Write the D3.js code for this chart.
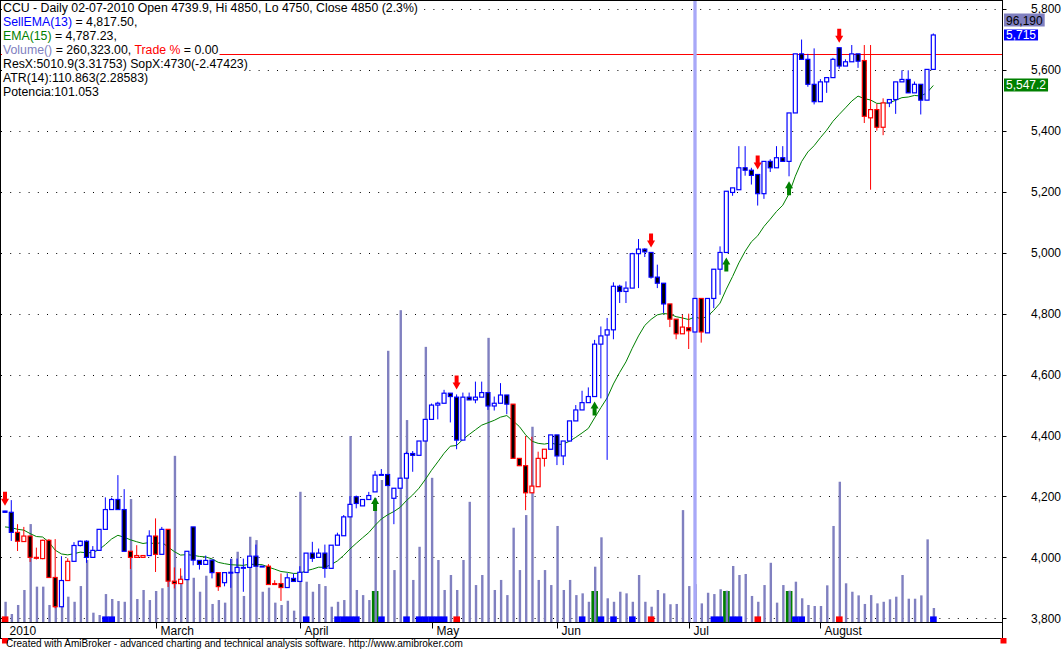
<!DOCTYPE html>
<html><head><meta charset="utf-8">
<script src="https://cdn.jsdelivr.net/npm/d3@7/dist/d3.min.js"></script>
<style>
body{margin:0;background:#fff;}
svg{display:block;font-family:"Liberation Sans",Arial,sans-serif;}
</style></head><body>
<svg id="c" width="1063" height="650"></svg>
<script>
// ---------------- data ----------------
const opens = [4152,4148,4082,4052,4070,3997,3996,4056,3934,3838,
 3924,3987,4039,4053,4000,4023,4092,4157,4190,4157,
 4020,4000,4000,4006,4070,4010,4092,3922,3914,3927,
 4100,3990,3977,3991,3950,3917,3950,3950,3967,3967,
 4004,3971,3971,3911,3914,3901,3931,3921,3951,4014,
 4000,4014,3964,4040,4071,4133,4199,4169,4190,4215,
 4270,4272,4194,4227,4260,4341,4335,4382,4453,4500,
 4506,4539,4526,4385,4526,4517,4526,4541,4497,4506,
 4533,4503,4325,4301,4212,4232,4325,4355,4402,4333,
 4382,4448,4484,4508,4528,4700,4730,4747,4890,4873,
 4884,4997,5012,5001,4920,4900,4832,4782,4734,4754,
 4739.9,4850,4737,4850,4946,5001,5198,5207,5279,5271,
 5257,5194,5300,5279,5312,5300,5459,5653,5635,5553,
 5496,5561,5575,5673,5613,5627,5653,5631,5443,5470,
 5412,5492,5503,5561,5569,5525,5553,5501,5602];
const highs = [4153,4188,4109,4100,4070,4032,4058,4060,4060,4004,
 3997,4050,4055,4056,4037,4092,4197,4196,4270,4224,
 4020,4040,4006,4089,4128,4100,4092,3967,3964,4020,
 4100,3991,4006,3991,3950,3950,3995,3996,3996,4004,
 4042,3972,3978,3925,3947,3948,3947,3971,4014,4051,
 4029,4042,4040,4081,4139,4201,4203,4190,4215,4284,
 4290,4272,4227,4260,4347,4349,4382,4453,4505,4511,
 4550,4539,4535,4541,4541,4577,4577,4541,4528,4572,
 4533,4503,4325,4398,4396,4347,4355,4402,4402,4382,
 4448,4500,4547,4558,4714,4758,4786,4903,4895,4906,
 5000,5045,5015,5001,4961,4900,4832,4782,4796,4800,
 4850,4850,4850,4946,5021,5202,5213,5350,5350,5279,
 5257,5300,5307,5350,5350,5459,5653,5700,5653,5671,
 5570,5575,5640,5673,5635,5682,5653,5682,5682,5489,
 5507,5503,5561,5599,5599,5562,5553,5602,5720];
const lows = [4147,4054,4021,4052,3985,3993,3994,3934,3833,3838,
 3924,3987,4036,3982,3999,4023,4092,4157,4157,4020,
 3962,4000,4000,4006,3952,4010,3903,3898,3914,3927,
 3974,3960,3977,3931,3890,3905,3900,3950,3887,3967,
 3971,3970,3911,3911,3857,3901,3921,3921,3951,3985,
 4000,3933,3964,4040,4071,4133,4161,4169,4190,4215,
 4270,4236,4109,4227,4260,4281,4335,4382,4453,4453,
 4506,4443,4355,4385,4517,4506,4526,4484,4482,4506,
 4470,4325,4301,4155,4212,4232,4298,4355,4303,4303,
 4382,4448,4484,4508,4528,4522,4320,4716,4835,4835,
 4884,4884,4986,4915,4884,4802,4756,4716,4734,4684,
 4739.9,4705,4737,4818,4862,5001,5187,5207,5253,5224,
 5155,5177,5265,5279,5300,5251,5459,5635,5545,5487,
 5496,5525,5575,5604,5613,5627,5607,5426,5207,5401,
 5386,5478,5456,5561,5525,5525,5454,5501,5602];
const closes = [4148,4082,4053,4070,4000,4000,4056,3934,3838,3924,
 3987,4039,4053,4000,4023,4092,4157,4190,4157,4020,
 4000,4006,4006,4070,4010,4092,3922,3914,3928,4020,
 3991,3977,3990,3950,3904,3950,3951,3967,3967,4004,
 3971,3971,3911,3914,3901,3933,3921,3951,4014,3997,
 4014,3964,4040,4073,4133,4174,4177,4190,4203,4270,
 4272,4236,4227,4260,4341,4335,4382,4453,4500,4506,
 4539,4528,4385,4526,4517,4526,4541,4497,4506,4533,
 4503,4325,4301,4212,4234,4325,4355,4402,4333,4382,
 4448,4484,4508,4528,4700,4727,4747,4890,4873,4884,
 4997,5012,5003,4920,4900,4832,4782,4734,4756,4744,
 4850,4740,4850,4946,5001,5202,5213,5279,5271,5254,
 5194,5300,5279,5312,5300,5459,5653,5635,5553,5496,
 5561,5575,5635,5613,5627,5653,5629,5448,5470,5412,
 5492,5503,5561,5569,5525,5553,5501,5602,5715];
// candle regime: b = blue, r = red
const regime = ("bbrrrrrrrb"+"rbbbbbbbbb"+"rrrbrbrrrb"+"bbbbrbbbbb"+"bbrrrbbbbb"+
 "bbbbbbbbbb"+"bbbbbbbbbb"+"bbbbbbbbbb"+"brrrrrrbbb"+"bbbbbbbbbb"+
 "bbbbbbrrrr"+"brbbbbbbbb"+"bbbbbbbbbb"+"bbbbbbbrrr"+"rbbbbbbbb").split("");
// volume, thousands of shares
const volumes = [139,55,117,220,673,243,243,117,163,105,
 174,139,247,426,64,48,192,158,144,139,
 845,158,220,151,213,232,289,1142,318,289,
 304,208,318,124,151,133,435,483,179,586,
 563,208,236,133,117,146,78,895,277,208,
 261,247,105,139,151,1278,220,185,151,852,
 976,1864,357,2143,1388,289,517,1891,991,426,
 220,323,220,426,826,254,323,1953,220,289,
 185,648,357,735,1342,289,357,254,660,220,
 289,185,197,139,380,582,163,139,208,197,
 139,323,139,105,220,197,122,124,769,247,
 260.3,128,201,192,225,215,385,323,330,179,
 139,254,407,133,254,215,277,163,117,110,
 110,252,660,964,266,208,183,124,185,128,
 139,156,174,323,160,160,183,568,96.19];
const sellBars = [0,72,103,120,133];
const buyBars = [59,94,115,125];
const ribbonBlue = [16,17,48,53,54,55,56,60,64,66,67,68,69,70,92,95,97,100,113,114,116,117,126,127,148];
const monthNames = ["2010","March","April","May","Jun","Jul","August"];
const monthFirstBar = [0,24,47,68,88,109,130];
const priceTicks = [3800,4000,4200,4400,4600,4800,5000,5200,5400,5600,5800];
const priceTickLabels = ["3,800","4,000","4,200","4,400","4,600","4,800","5,000","5,200","5,400","5,600","5,800"];
const selectedBar = 110;
const resistanceLevel = 5653;
const emaPeriod = 15, emaStart = 4100;
const titleLines = [
  [["CCU - Daily 02-07-2010 Open 4739.9, Hi 4850, Lo 4750, Close 4850 (2.3%)","#000"]],
  [["SellEMA(13)","#0000ff"],[" = 4,817.50,","#000"]],
  [["EMA(15)","#008000"],[" = 4,787.23,","#000"]],
  [["Volume()","#8080c0"],[" = 260,323.00, ","#000"],["Trade %","#ff0000"],[" = 0.00","#000"]],
  [["ResX:5010.9(3.31753) SopX:4730(-2.47423)","#000"]],
  [["ATR(14):110.863(2.28583)","#000"]],
  [["Potencia:101.053","#000"]]
];
const valueBoxes = [
  {text:"96,190", bg:"#8080c0", fg:"#000"},
  {text:"5,715", bg:"#0000ff", fg:"#fff"},
  {text:"5,547.2", bg:"#008000", fg:"#fff"}
];
const footerText = "Created with AmiBroker - advanced charting and technical analysis software. http://www.amibroker.com";

// ---------------- derived indicator ----------------
const ema = [];
closes.forEach((c,i)=>{ ema.push(i===0 ? emaStart : ema[i-1] + (c-ema[i-1])*2/(emaPeriod+1)); });

// ---------------- layout ----------------
const svg = d3.select("#c");
const n = closes.length;
const plotRight = 1002.5, axisY = 622.5, frameBottom = 638.5;
const x = d3.scaleLinear().domain([0, n-1]).range([5, 933.3]);
const y = d3.scaleLinear().domain([3800, 5600]).range([618.3, 70]);
const yVol = d3.scaleLinear().domain([0, 4000]).range([622, 40]);
const BLUE="#0000ff", RED="#ff0000", GREEN="#008000", LAV="#8080c0";

// grid (dotted)
svg.append("g").selectAll("line").data(priceTicks).join("line")
  .attr("x1",1).attr("x2",plotRight-1)
  .attr("y1",d=>Math.round(y(d))+0.5).attr("y2",d=>Math.round(y(d))+0.5)
  .attr("stroke","#000").attr("stroke-width",1).attr("stroke-dasharray","1,8.2");

// resistance line
svg.append("line").attr("x1",1).attr("x2",plotRight)
  .attr("y1",Math.round(y(resistanceLevel))+0.5).attr("y2",Math.round(y(resistanceLevel))+0.5)
  .attr("stroke",RED).attr("stroke-width",1);

// green buy ribbons (tall)
svg.append("g").selectAll("rect").data(buyBars).join("rect")
  .attr("x",d=>x(d)-3.2).attr("width",6.6).attr("y",591).attr("height",axisY-591)
  .attr("fill",GREEN);

// volume
svg.append("g").selectAll("rect").data(volumes).join("rect")
  .attr("x",(d,i)=>x(i)-0.6).attr("width",2.4)
  .attr("y",d=>yVol(d)).attr("height",d=>axisY-yVol(d))
  .attr("fill",LAV);

// blue / red ribbons
svg.append("g").selectAll("rect").data(ribbonBlue).join("rect")
  .attr("x",d=>x(d)-3.2).attr("width",6.6).attr("y",616.4).attr("height",axisY-616.4)
  .attr("fill",BLUE);
svg.append("g").selectAll("rect").data(sellBars).join("rect")
  .attr("x",d=>x(d)-3.2).attr("width",6.6).attr("y",616.4).attr("height",axisY-616.4)
  .attr("fill",RED);

// selected bar line
svg.append("rect").attr("x",x(selectedBar)-1.6).attr("width",3.3).attr("y",0).attr("height",axisY)
  .attr("fill","#a8a8f8");

// EMA
svg.append("path").datum(ema)
  .attr("d", d3.line().x((d,i)=>x(i)).y(d=>y(d)))
  .attr("fill","none").attr("stroke",GREEN).attr("stroke-width",1);

// candles
const cg = svg.append("g");
closes.forEach((c,i)=>{
  const col = regime[i]==="r" ? RED : BLUE;
  const up = c >= opens[i];
  const xc = x(i);
  cg.append("line").attr("x1",xc).attr("x2",xc)
    .attr("y1",y(highs[i])).attr("y2",y(lows[i]))
    .attr("stroke",col).attr("stroke-width",1);
  const top = y(Math.max(c,opens[i])), bot = y(Math.min(c,opens[i]));
  cg.append("rect").attr("x",xc-2).attr("width",4)
    .attr("y",top).attr("height",Math.max(bot-top,0.8))
    .attr("fill",up ? "#fff" : "#000").attr("stroke",col).attr("stroke-width",1.2);
});

// arrows
const ag = svg.append("g");
sellBars.forEach(i=>{
  const cx = x(i), t = y(highs[i]) - 5;
  ag.append("path").attr("fill",RED)
    .attr("d",`M${cx-2},${t-14}H${cx+2}V${t-7}H${cx+4}L${cx},${t}L${cx-4},${t-7}H${cx-2}Z`);
});
buyBars.forEach(i=>{
  const cx = x(i), t = y(lows[i]) + 5;
  ag.append("path").attr("fill",GREEN)
    .attr("d",`M${cx-2},${t+14}H${cx+2}V${t+7}H${cx+4}L${cx},${t}L${cx-4},${t+7}H${cx-2}Z`);
});

// frame
const fr = svg.append("g").attr("stroke","#000").attr("stroke-width",1).attr("fill","none");
fr.append("line").attr("x1",0.5).attr("x2",0.5).attr("y1",0).attr("y2",frameBottom);
fr.append("line").attr("x1",0).attr("x2",plotRight).attr("y1",0.5).attr("y2",0.5);
fr.append("line").attr("x1",plotRight).attr("x2",plotRight).attr("y1",0).attr("y2",frameBottom);
fr.append("line").attr("x1",0).attr("x2",plotRight).attr("y1",axisY).attr("y2",axisY);
fr.append("line").attr("x1",0).attr("x2",plotRight+2).attr("y1",frameBottom).attr("y2",frameBottom);

// right axis
const ra = svg.append("g");
ra.selectAll("line").data(priceTicks).join("line")
  .attr("x1",plotRight).attr("x2",plotRight+4)
  .attr("y1",d=>Math.round(y(d))+0.5).attr("y2",d=>Math.round(y(d))+0.5)
  .attr("stroke","#000");
ra.selectAll("text").data(priceTicks).join("text")
  .attr("x",1061).attr("y",d=>Math.max(y(d),6.5)).attr("dy","0.35em")
  .attr("text-anchor","end").attr("font-size",12).attr("fill","#000")
  .text((d,i)=>priceTickLabels[i]);

// value boxes
const boxY = [13.5, y(closes[n-1]) - 5.5, y(ema[n-1]) - 7];
valueBoxes.forEach((b,k)=>{
  const g = svg.append("g");
  const h = k===1 ? 11 : 13;
  const t = g.append("text").attr("x",1006).attr("y",boxY[k]+h/2+0.3).attr("dy","0.35em")
    .attr("font-size",12).attr("fill",b.fg).text(b.text);
  const w = t.node().getComputedTextLength();
  g.insert("rect","text").attr("x",1004).attr("y",boxY[k]).attr("width",w+4).attr("height",h)
    .attr("fill",b.bg);
});

// month axis
const mx = svg.append("g");
monthNames.forEach((m,k)=>{
  const xx = Math.round(x(monthFirstBar[k]))+0.5;
  if (k>0) mx.append("line").attr("x1",xx).attr("x2",xx).attr("y1",axisY).attr("y2",axisY+6).attr("stroke","#000");
  mx.append("text").attr("x",xx+4).attr("y",634.5).attr("font-size",12).attr("fill","#000").text(m);
});

// footer
svg.append("rect").attr("x",2).attr("y",638).attr("width",6).attr("height",5.5).attr("fill",RED);
svg.append("rect").attr("x",1000.5).attr("y",638).attr("width",6).attr("height",5.5).attr("fill",RED);
svg.append("text").attr("x",6).attr("y",647).attr("font-size",10).attr("fill","#000").text(footerText);

// title block (opaque background)
const tg = svg.append("g");
const lineY = [8, 22, 36, 50, 64, 78, 92];
titleLines.forEach((parts,k)=>{
  const g = tg.append("g");
  const t = g.append("text").attr("x",3).attr("y",lineY[k]).attr("dy","0.35em").attr("font-size",12.3);
  parts.forEach(p=>t.append("tspan").attr("fill",p[1]).text(p[0]));
  const bb = t.node().getBBox();
  g.insert("rect","text").attr("x",2).attr("y",lineY[k]-7).attr("width",bb.width+2).attr("height",14).attr("fill","#fff");
});
</script>
</body></html>
